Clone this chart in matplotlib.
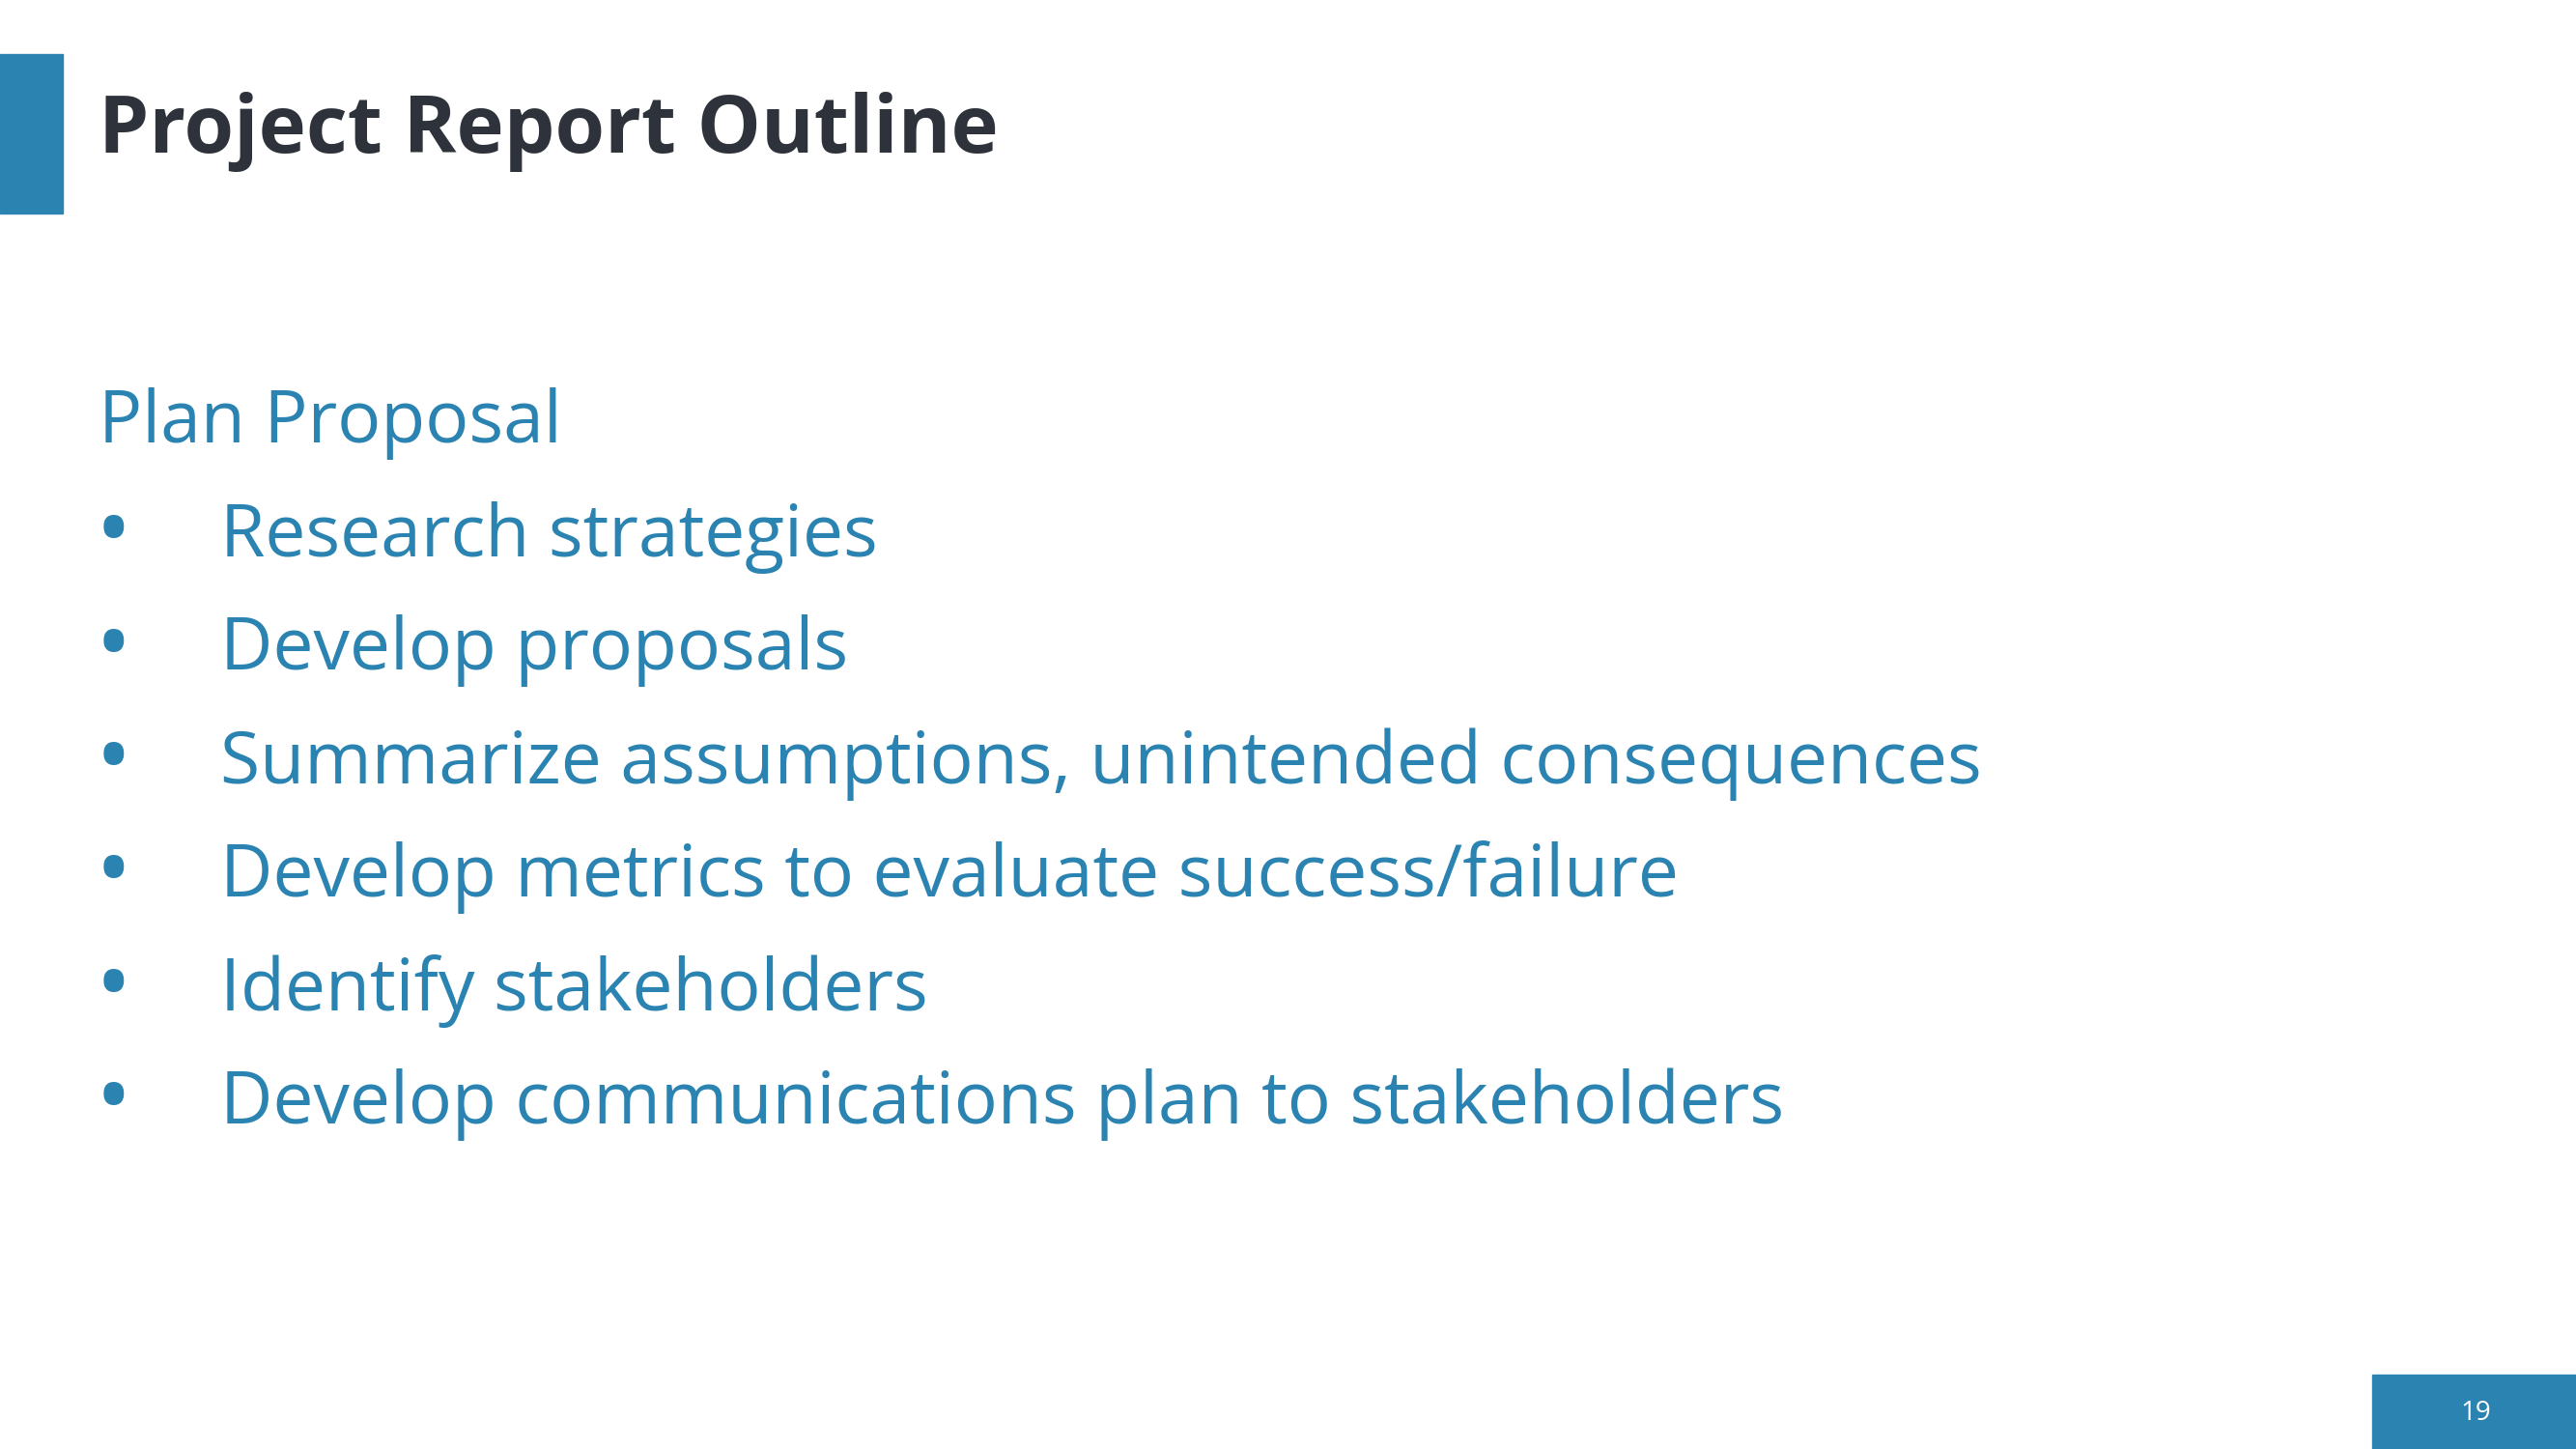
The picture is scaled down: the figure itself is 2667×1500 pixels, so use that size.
import matplotlib.pyplot as plt
from matplotlib.patches import Rectangle

title = "Project Report Outline"
heading = "Plan Proposal"
bullets = [
    "Research strategies",
    "Develop proposals",
    "Summarize assumptions, unintended consequences",
    "Develop metrics to evaluate success/failure",
    "Identify stakeholders",
    "Develop communications plan to stakeholders",
]
page_number = "19"

blue = "#2a83b1"
dark = "#2e323b"

plt.rcParams['font.family'] = ['Open Sans', 'DejaVu Sans']
fig = plt.figure(figsize=(26.67, 15), dpi=100)

# accent bar and page box
fig.patches.append(Rectangle((0, 1 - 130 / 882), 38 / 1568, 97 / 882,
                             transform=fig.transFigure, color=blue))
fig.patches.append(Rectangle((1444 / 1568, 0), 124 / 1568, 45 / 882,
                             transform=fig.transFigure, color=blue))
fig.text(1507 / 1568, 22 / 882, page_number, color="white", fontsize=20,
         ha="center", va="center")

fig.text(60 / 1568, 1 - 80 / 882, title, color=dark, fontsize=60,
         fontweight="bold", va="center")

y0 = 1 - 258 / 882
step = 69 / 882
fig.text(60 / 1568, y0, heading, color=blue, fontsize=54, va="center")
for i, b in enumerate(bullets):
    y = y0 - (i + 1) * step
    fig.text(58 / 1568, y, "\u2022", color=blue, fontsize=72, va="center")
    fig.text(134 / 1568, y, b, color=blue, fontsize=54, va="center")

fig.savefig("out.png", dpi=100)
